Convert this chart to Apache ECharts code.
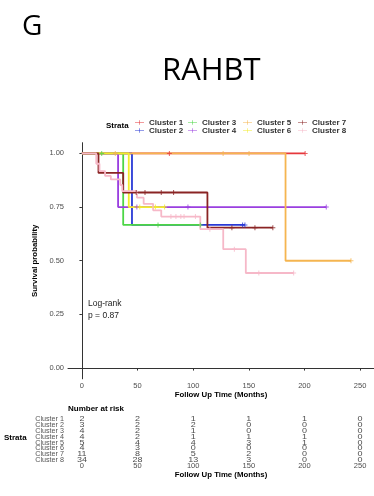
<!DOCTYPE html>
<html><head><meta charset="utf-8">
<script src="https://cdn.jsdelivr.net/npm/echarts@6/dist/echarts.min.js"></script>
<style>html,body{margin:0;padding:0;background:#fff}#c{width:374px;height:496px}</style>
</head><body><div id="c"></div>
<script>
const categories = ['Cluster 1','Cluster 2','Cluster 3','Cluster 4','Cluster 5','Cluster 6','Cluster 7','Cluster 8'];
const colors = ['#e6383c','#2a3ad6','#4cd645','#9a3fe0','#f5b550','#f2ec2c','#8a2424','#f6b8c8'];
const xTicks = [0,50,100,150,200,250];
const yTicks = [0,0.25,0.5,0.75,1];

const c1Times = [0, 200.6];            const c1Surv = [1, 1];            const c1Censor = [78.6, 200.6];
const c2Times = [0, 45, 146.5];        const c2Surv = [1, 0.667, 0.667]; const c2Censor = [144.4, 146.5];
const c3Times = [0, 37.1, 106.4];      const c3Surv = [1, 0.667, 0.667]; const c3Censor = [17.8, 68.4, 106.4];
const c4Times = [0, 32.5, 219.6];      const c4Surv = [1, 0.75, 0.75];   const c4Censor = [49.4, 95.3, 219.6];
const c5Times = [0, 183, 241.8];       const c5Surv = [1, 0.5, 0.5];     const c5Censor = [30, 126.9, 150.2, 241.8];
const c6Times = [0, 42.1, 74.3];       const c6Surv = [1, 0.75, 0.75];   const c6Censor = [52, 66, 74.3];
const c7Times = [0, 14.9, 37.1, 112.8, 171.6]; const c7Surv = [1, 0.909, 0.818, 0.654, 0.654];
const c7Censor = [48.8, 56.7, 71.3, 82.4, 134.8, 155.5, 171.6];
const c8Times = [0, 12.9, 15.8, 20.8, 26, 34.5, 36.3, 49.5, 55.5, 64, 71.3, 106.4, 127, 147.3, 190.3];
const c8Surv  = [1, 0.952, 0.918, 0.895, 0.879, 0.853, 0.824, 0.794, 0.765, 0.735, 0.706, 0.647, 0.554, 0.443, 0.443];
const c8Censor = [80, 84.5, 88.9, 91.8, 102, 115, 137, 159, 190.3];

const risk1 = [2,2,1,1,1,0];
const risk2 = [3,2,2,0,0,0];
const risk3 = [4,2,1,0,0,0];
const risk4 = [4,2,1,1,1,0];
const risk5 = [5,4,4,3,1,0];
const risk6 = [4,3,0,0,0,0];
const risk7 = [11,8,5,2,0,0];
const risk8 = [34,28,13,3,0,0];

const curves = [
  [c1Times,c1Surv,c1Censor],[c2Times,c2Surv,c2Censor],[c3Times,c3Surv,c3Censor],[c4Times,c4Surv,c4Censor],
  [c5Times,c5Surv,c5Censor],[c6Times,c6Surv,c6Censor],[c7Times,c7Surv,c7Censor],[c8Times,c8Surv,c8Censor]
];
const risks = [risk1,risk2,risk3,risk4,risk5,risk6,risk7,risk8];

function survAt(times, surv, t){ let v = surv[0]; for (let i=0;i<times.length;i++){ if (times[i] <= t) v = surv[i]; } return v; }

const FONT = '"Liberation Sans", Arial, sans-serif';
const series = [];
curves.forEach((c, i) => {
  series.push({
    name: categories[i], type: 'line', step: 'end', xAxisIndex: 0, yAxisIndex: 0,
    showSymbol: false, symbol: 'none', z: 2,
    lineStyle: { width: 1.8, color: colors[i] }, itemStyle: { color: colors[i] },
    data: c[0].map((t, k) => [t, c[1][k]])
  });
});
const plus = 'path://M4,0H6V4H10V6H6V10H4V6H0V4H4Z';
curves.forEach((c, i) => {
  series.push({
    name: categories[i] + ' censor', type: 'scatter', xAxisIndex: 0, yAxisIndex: 0,
    symbol: plus, symbolSize: 5, z: 3, itemStyle: { color: colors[i] },
    data: c[2].map(t => [t, survAt(c[0], c[1], t)])
  });
});
const riskData = [];
risks.forEach((r, i) => r.forEach((v, k) => riskData.push([xTicks[k], i, v])));
series.push({
  type: 'custom', xAxisIndex: 1, yAxisIndex: 1, data: riskData,
  renderItem: (params, api) => {
    const p = api.coord([api.value(0), api.value(1)]);
    return { type: 'text', x: p[0], y: p[1], scaleY: 0.8,
      style: { text: String(api.value(2)), fill: '#4d4d4d', font: '9px ' + FONT, textAlign: 'center', textVerticalAlign: 'middle' } };
  }
});

const legendIcon = 'path://M0,4.4H20V5.6H0Z M9.4,0H10.6V10H9.4Z';
const legends = [0,1,2,3].map(col => ({
  orient: 'vertical', left: [135,188,243,298][col], top: 118.5, itemGap: 0, itemWidth: 9, itemHeight: 6,
  padding: 0, selectedMode: false,
  textStyle: { fontSize: 8, fontWeight: 'bold', color: '#333', fontFamily: FONT, lineHeight: 7.4 },
  data: [categories[col*2], categories[col*2+1]].map(n => ({ name: n, icon: legendIcon }))
}));

const chart = echarts.init(document.getElementById('c'), null, { renderer: 'canvas' });
chart.setOption({
  animation: false,
  backgroundColor: '#fff',
  title: [
    { text: 'G', left: 22, top: 13, padding: 0, textStyle: { fontSize: 28, fontWeight: 'normal', color: '#000', fontFamily: '"Open Sans", "Noto Sans", sans-serif' } },
    { text: 'RAHBT', left: 162, top: 56, padding: 0, textStyle: { fontSize: 31, fontWeight: 'normal', color: '#000', fontFamily: '"Open Sans", "Noto Sans", sans-serif' } },
    { text: 'Strata', left: 106, top: 122, padding: 0, textStyle: { fontSize: 8, fontWeight: 'bold', color: '#000', fontFamily: FONT } },
    { text: 'Log-rank', left: 88, top: 299, padding: 0, textStyle: { fontSize: 8.5, fontWeight: 'normal', color: '#222', fontFamily: FONT } },
    { text: 'p = 0.87', left: 88, top: 311, padding: 0, textStyle: { fontSize: 8.5, fontWeight: 'normal', color: '#222', fontFamily: FONT } },
    { text: 'Number at risk', left: 68, top: 405, padding: 0, textStyle: { fontSize: 8, fontWeight: 'bold', color: '#000', fontFamily: FONT } },
    { text: 'Strata', left: 4, top: 434, padding: 0, textStyle: { fontSize: 8, fontWeight: 'bold', color: '#000', fontFamily: FONT } }
  ],
  legend: legends,
  grid: [
    { left: 68, top: 142.7, width: 313, height: 236.1 },
    { left: 68, top: 416.4, width: 313, height: 46.5 }
  ],
  xAxis: [
    { type: 'value', gridIndex: 0, min: -12.5, max: 262.5,
      name: 'Follow Up Time (Months)', nameLocation: 'middle', nameGap: 12,
      nameTextStyle: { fontSize: 7.8, fontWeight: 'bold', color: '#000', fontFamily: FONT },
      axisLine: { show: true, lineStyle: { color: '#333', width: 1 } },
      axisTick: { show: true, length: 2.5, customValues: xTicks, lineStyle: { color: '#333' } },
      axisLabel: { customValues: xTicks, fontSize: 7.5, color: '#4d4d4d', margin: 3, fontFamily: FONT },
      splitLine: { show: false } },
    { type: 'value', gridIndex: 1, min: -12.5, max: 262.5,
      name: 'Follow Up Time (Months)', nameLocation: 'middle', nameGap: 6,
      nameTextStyle: { fontSize: 7.8, fontWeight: 'bold', color: '#000', fontFamily: FONT },
      axisLine: { show: false }, axisTick: { show: false },
      axisLabel: { customValues: xTicks, fontSize: 7.5, color: '#4d4d4d', margin: -1, fontFamily: FONT },
      splitLine: { show: false } }
  ],
  yAxis: [
    { type: 'value', gridIndex: 0, min: -0.05, max: 1.05,
      name: 'Survival probability', nameLocation: 'middle', nameGap: 23,
      nameTextStyle: { fontSize: 7.8, fontWeight: 'bold', color: '#000', fontFamily: FONT },
      axisLine: { show: true, lineStyle: { color: '#333', width: 1 } },
      axisTick: { show: true, length: 2.5, customValues: yTicks, lineStyle: { color: '#333' } },
      axisLabel: { customValues: yTicks, fontSize: 7.5, color: '#4d4d4d', margin: 4, fontFamily: FONT, formatter: v => v.toFixed(2) },
      splitLine: { show: false } },
    { type: 'category', gridIndex: 1, data: categories, inverse: true,
      axisLine: { show: false }, axisTick: { show: false },
      axisLabel: { interval: 0, fontSize: 7.2, lineHeight: 6, color: '#555', margin: 4, fontFamily: FONT },
      splitLine: { show: false } }
  ],
  series: series
});
</script></body></html>
